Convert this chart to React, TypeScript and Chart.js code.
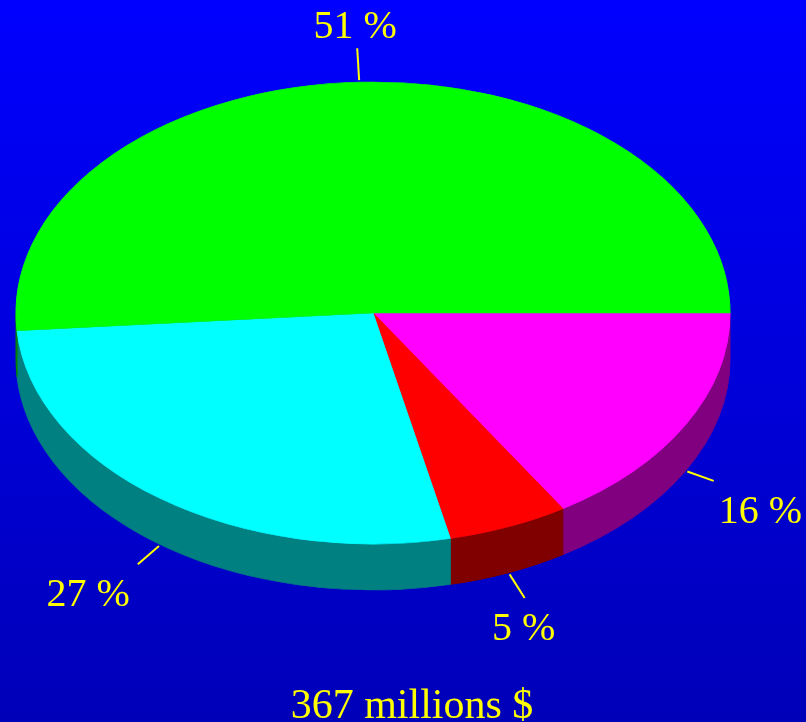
import React, { useEffect, useRef } from "react";
import { Chart, registerables } from "chart.js";

Chart.register(...registerables);

// ---- Data (clockwise from 3 o'clock) ----
const categories = ["Segment D", "Segment C", "Segment B", "Segment A"];
const values = [59, 20, 100, 188]; // millions $
const percentLabels = ["16 %", "5 %", "27 %", "51 %"];
const topColors = ["#FF00FF", "#FF0000", "#00FFFF", "#00FF00"];
const sideColors = ["#800080", "#800000", "#008080", "#008000"];
const totalText = "367 millions $";

// ---- Layout constants ----
const W = 806;
const H = 722;
const CX = 373;
const CY = 313;
const RX = 357;
const RY = 231;
const DEPTH = 46;
const FONT = '"Liberation Serif", "DejaVu Serif", "Times New Roman", serif';

const pie3d = {
  id: "pie3d",
  beforeDraw(chart: any) {
    const ctx = chart.ctx as CanvasRenderingContext2D;
    ctx.save();
    const g = ctx.createLinearGradient(0, 0, 0, chart.height);
    g.addColorStop(0, "#0000FF");
    g.addColorStop(1, "#0000B8");
    ctx.fillStyle = g;
    ctx.fillRect(0, 0, chart.width, chart.height);
    ctx.restore();
  },
  beforeDatasetsDraw(chart: any) {
    const ctx = chart.ctx as CanvasRenderingContext2D;
    const meta = chart.getDatasetMeta(0);
    if (!meta.data.length) return;
    const a0 = meta.data[0];
    const x = a0.x;
    const y = a0.y;
    const r = a0.outerRadius;
    ctx.save();
    ctx.translate(CX, CY);
    ctx.scale(RX / r, RY / r);
    ctx.translate(-x, -y);
    const d = (DEPTH * r) / RY;
    meta.data.forEach((el: any, i: number) => {
      const s = el.startAngle;
      const e = el.endAngle;
      const ranges = [
        [0, Math.PI],
        [2 * Math.PI, 3 * Math.PI],
      ];
      ranges.forEach(([lo, hi]) => {
        const a = Math.max(s, lo);
        const b = Math.min(e, hi);
        if (b <= a) return;
        ctx.beginPath();
        ctx.moveTo(x + r * Math.cos(a), y + r * Math.sin(a));
        ctx.arc(x, y, r, a, b, false);
        ctx.lineTo(x + r * Math.cos(b), y + d + r * Math.sin(b));
        ctx.arc(x, y + d, r, b, a, true);
        ctx.closePath();
        ctx.fillStyle = sideColors[i];
        ctx.fill();
        ctx.strokeStyle = sideColors[i];
        ctx.lineWidth = 1;
        ctx.stroke();
      });
    });
  },
  afterDatasetsDraw(chart: any) {
    chart.ctx.restore();
  },
  afterDraw(chart: any) {
    const ctx = chart.ctx as CanvasRenderingContext2D;
    const meta = chart.getDatasetMeta(0);
    ctx.save();
    ctx.fillStyle = "#FFFF00";
    ctx.strokeStyle = "#FFFF00";
    ctx.lineWidth = 2;
    ctx.font = `40px ${FONT}`;
    meta.data.forEach((el: any, i: number) => {
      const m = (el.startAngle + el.endAngle) / 2;
      const c = Math.cos(m);
      const s = Math.sin(m);
      const front = s > 0;
      const ex = CX + RX * c;
      const ey = CY + RY * s + (front ? DEPTH : 0);
      let dx = c;
      let dy = (s * RY) / RX;
      const len = Math.hypot(dx, dy);
      dx /= len;
      dy /= len;
      const len1 = front ? 30 : 34;
      const sx = ex + dx * 2;
      const sy = ey + dy * 2;
      const tx = ex + dx * len1;
      const ty = ey + dy * len1;
      ctx.beginPath();
      ctx.moveTo(sx, sy);
      ctx.lineTo(tx, ty);
      ctx.stroke();
      ctx.textBaseline = "alphabetic";
      if (!front) {
        ctx.textAlign = "center";
        ctx.fillText(percentLabels[i], tx - 2, ty - 10);
      } else if (dx > 0.6) {
        ctx.textAlign = "left";
        ctx.fillText(percentLabels[i], tx + 5, ty + 42);
      } else if (dx < -0.6) {
        ctx.textAlign = "right";
        ctx.fillText(percentLabels[i], tx - 8, ty + 42);
      } else {
        ctx.textAlign = "center";
        ctx.fillText(percentLabels[i], tx - 1, ty + 42);
      }
    });
    ctx.font = `42px ${FONT}`;
    ctx.textAlign = "center";
    ctx.textBaseline = "alphabetic";
    ctx.fillText(totalText, 412, 718);
    ctx.restore();
  },
};

export default function App() {
  const ref = useRef<HTMLCanvasElement | null>(null);
  useEffect(() => {
    document.body.style.margin = "0";
    const canvas = ref.current;
    if (!canvas) return;
    const chart = new Chart(canvas, {
      type: "pie",
      data: {
        labels: categories,
        datasets: [
          {
            data: values,
            backgroundColor: topColors,
            borderColor: topColors,
            borderWidth: 1,
            clip: false,
          } as any,
        ],
      },
      options: {
        responsive: false,
        animation: false,
        rotation: 90,
        layout: { padding: { left: 16, right: 76, top: 4, bottom: 4 } },
        plugins: {
          legend: { display: false },
          tooltip: { enabled: false },
        },
        events: [],
      },
      plugins: [pie3d],
    });
    return () => chart.destroy();
  }, []);
  return (
    <div style={{ width: W, height: H }}>
      <canvas ref={ref} width={W} height={H} style={{ width: W, height: H, display: "block" }} />
    </div>
  );
}
